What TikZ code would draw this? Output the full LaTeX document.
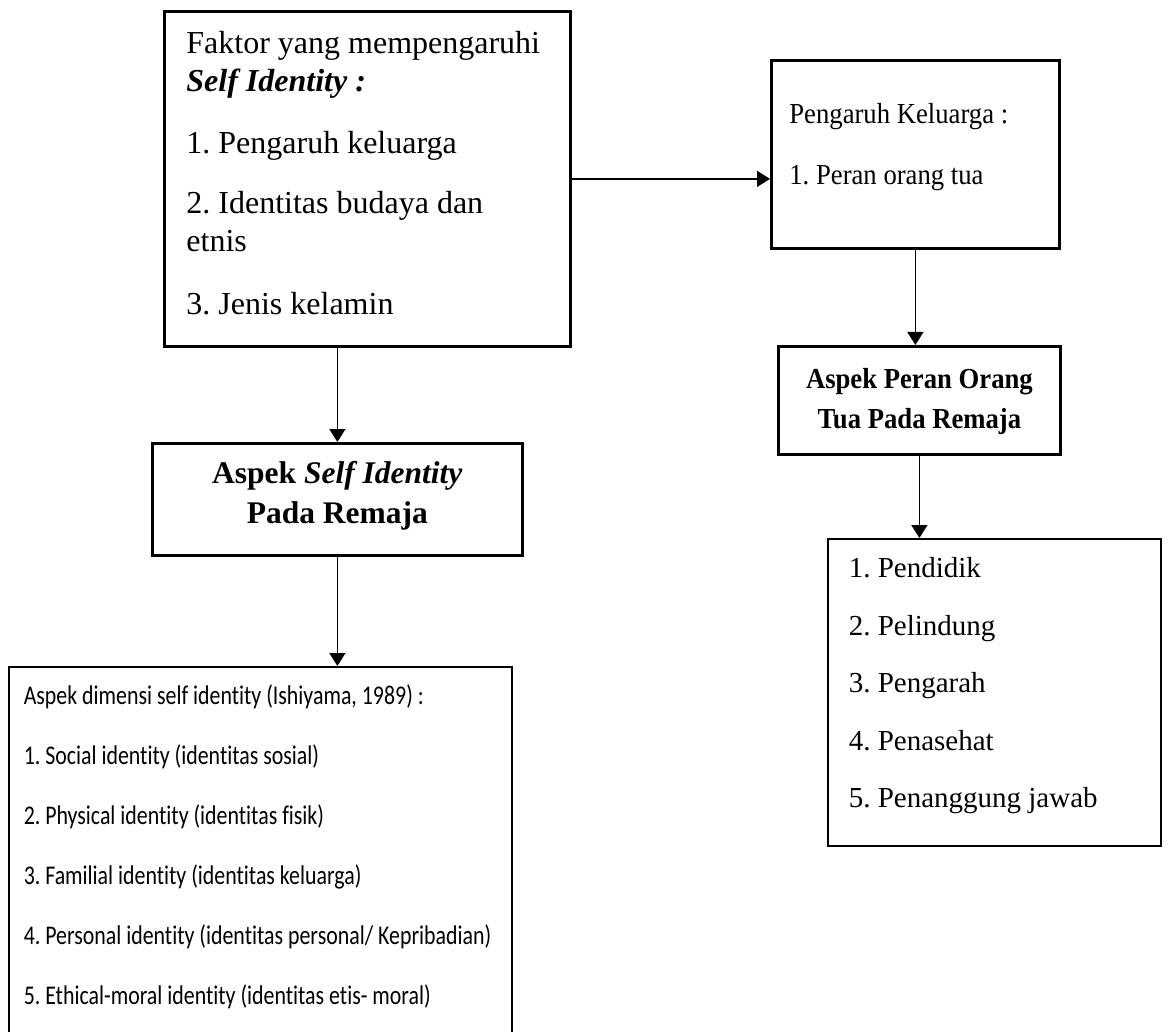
\documentclass[tikz,border=0pt]{standalone}
\usepackage{fontspec}
\setmainfont{Liberation Serif}
\newfontfamily\calibri{Carlito}[FakeStretch=0.81, Ligatures=NoCommon]
\newfontfamily\sempit{Liberation Serif}[FakeStretch=0.92]
\usetikzlibrary{arrows.meta}

\tikzset{
  kotak/.style={draw, line width=2.8pt, anchor=north west, inner ysep=0pt},
  daftar/.style={draw, line width=1.5pt, anchor=north west, inner ysep=0pt, align=flush left},
  panah/.style={line width=1.3pt, -{Triangle[length=13pt,width=16pt]}}
}

\begin{document}
\frenchspacing
\begin{tikzpicture}[x=1pt,y=-1pt]
    \clip (0,0) rectangle (1170,1032);
    \node[kotak, inner xsep=22pt, text width=362pt, text height=42pt, text depth=293pt,
      align=flush left, font=\fontsize{32}{38}\selectfont] (faktor) at (163,10)
      {Faktor yang mempengaruhi\\ \textbf{\textit{Self Identity :}}\\[24pt]
       1. Pengaruh keluarga\\[22pt] 2. Identitas budaya dan\\ etnis\\[25pt] 3. Jenis kelamin};
    \node[kotak, inner xsep=18pt, text width=252pt, text height=63pt, text depth=125pt,
      align=flush left, font=\sempit\fontsize{29}{32}\selectfont] (keluarga) at (770,59)
      {Pengaruh Keluarga :\\[29pt] 1. Peran orang tua};
    \node[kotak, inner xsep=0pt, text width=282pt, text height=42pt, text depth=66pt,
      align=flush center, font=\sempit\bfseries\fontsize{29}{40}\selectfont] (peran) at (777,345)
      {Aspek Peran Orang\\ Tua Pada Remaja};
    \node[kotak, inner xsep=0pt, text width=370pt, text height=40pt, text depth=72pt,
      align=flush center, font=\bfseries\fontsize{31.5}{40}\selectfont] (aspekself) at (151,442)
      {Aspek \textit{Self Identity}\\ Pada Remaja};
    \node[daftar, inner xsep=21pt, text width=291pt, text height=39pt, text depth=268pt,
      font=\fontsize{29}{57.5}\selectfont] (tugas) at (827,538)
      {1. Pendidik\\ 2. Pelindung\\ 3. Pengarah\\ 4. Penasehat\\ 5. Penanggung jawab};
    \node[daftar, inner xsep=15pt, text width=473pt, text height=38pt, text depth=420pt,
      font=\calibri\fontsize{27}{60}\selectfont] (dimensi) at (8,666)
      {Aspek dimensi self identity (Ishiyama, 1989) :\\
       1. Social identity (identitas sosial)\\
       2. Physical identity (identitas fisik)\\
       3. Familial identity (identitas keluarga)\\
       4. Personal identity (identitas personal/ Kepribadian)\\
       5. Ethical-moral identity (identitas etis- moral)};
    \draw[panah] (faktor.east) -- (faktor.east -| keluarga.west);
    \draw[panah] (faktor.south -| aspekself.north) -- (aspekself.north);
    \draw[panah] (aspekself.south) -- (aspekself.south |- dimensi.north);
    \draw[panah] (keluarga.south) -- (keluarga.south |- peran.north);
    \draw[panah] (peran.south) -- (peran.south |- tugas.north);
\end{tikzpicture}
\end{document}
